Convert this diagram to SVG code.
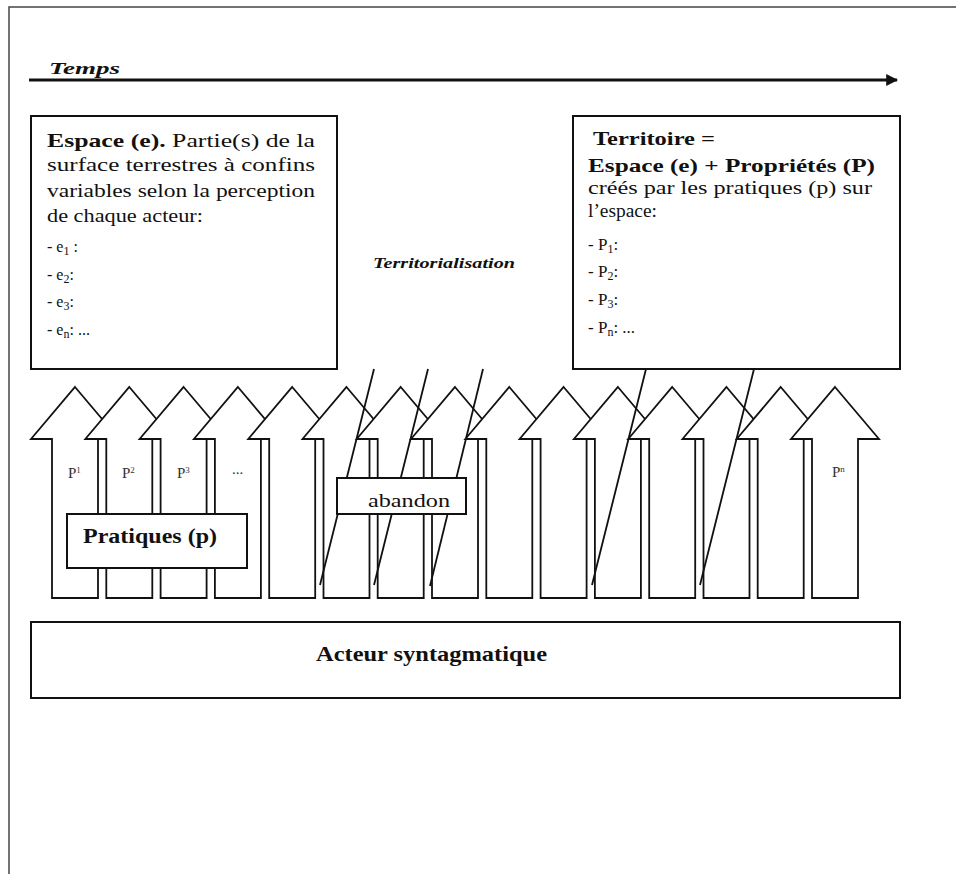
<svg xmlns="http://www.w3.org/2000/svg" xmlns:xlink="http://www.w3.org/1999/xlink" width="956" height="874" viewBox="0 0 956 874">
<style>
  .box{fill:#fff;stroke:#111;stroke-width:2}
  .arr{fill:#fff;stroke:#111;stroke-width:1.8;stroke-linejoin:miter}
  .t{font-family:"Liberation Serif","Times New Roman",serif;fill:#111}
  .b{font-weight:bold}
  .bi{font-weight:bold;font-style:italic}
  .lbl{font-family:"Liberation Serif","Times New Roman",serif;fill:#333;font-size:15px}
  .strike{stroke:#111;stroke-width:1.8;fill:none}
  .sub{font-size:12px}
</style>
<defs>
  <path id="arrowShape" d="M0,387 L44,439 L23,439 L23,598 L-23,598 L-23,439 L-44,439 Z"/>
  <marker id="head" viewBox="0 0 10 10" refX="9" refY="5" markerWidth="4" markerHeight="4" orient="auto" markerUnits="strokeWidth">
    <path d="M0,0 L10,5 L0,10 Z" fill="#111"/>
  </marker>
</defs>
<rect width="956" height="874" fill="#fff"/>
<path d="M9,874 L9,7 L956,7" fill="none" stroke="#444" stroke-width="1.5"/>

<g id="temps">
  <line x1="29" y1="80" x2="897" y2="80" stroke="#111" stroke-width="3" marker-end="url(#head)"/>
  <text class="t bi" x="49" y="74" font-size="17" textLength="71" lengthAdjust="spacingAndGlyphs">Temps</text>
</g>

<g id="espace">
  <rect class="box" x="31" y="116" width="306" height="253"/>
  <text class="t" font-size="19">
    <tspan x="47" y="147" textLength="268" lengthAdjust="spacingAndGlyphs"><tspan font-weight="bold">Espace (e).</tspan> Partie(s) de la</tspan>
    <tspan x="47" y="171" textLength="268" lengthAdjust="spacingAndGlyphs">surface terrestres à confins</tspan>
    <tspan x="47" y="197" textLength="268" lengthAdjust="spacingAndGlyphs">variables selon la perception</tspan>
    <tspan x="47" y="222" textLength="156" lengthAdjust="spacingAndGlyphs">de chaque acteur:</tspan>
  </text>
  <text class="t" font-size="16" x="47" y="252">- e<tspan class="sub" dy="3">1</tspan><tspan dy="-3"> :</tspan></text>
  <text class="t" font-size="16" x="47" y="280">- e<tspan class="sub" dy="3">2</tspan><tspan dy="-3">:</tspan></text>
  <text class="t" font-size="16" x="47" y="307">- e<tspan class="sub" dy="3">3</tspan><tspan dy="-3">:</tspan></text>
  <text class="t" font-size="16" x="47" y="335">- e<tspan class="sub" dy="3">n</tspan><tspan dy="-3">: ...</tspan></text>
</g>

<g id="territoire">
  <rect class="box" x="573" y="116" width="327" height="253"/>
  <text class="t b" font-size="19" x="593" y="145" textLength="122" lengthAdjust="spacingAndGlyphs">Territoire =</text>
  <text class="t b" font-size="19" x="588" y="172" textLength="287" lengthAdjust="spacingAndGlyphs">Espace (e) + Propriétés (P)</text>
  <text class="t" font-size="18" x="588" y="194" textLength="284" lengthAdjust="spacingAndGlyphs">créés par les pratiques (p)  sur</text>
  <text class="t" font-size="18" x="588" y="217" textLength="69" lengthAdjust="spacingAndGlyphs">l’espace:</text>
  <text class="t" font-size="17" x="588" y="250">- P<tspan class="sub" dy="3">1</tspan><tspan dy="-3">:</tspan></text>
  <text class="t" font-size="17" x="588" y="277">- P<tspan class="sub" dy="3">2</tspan><tspan dy="-3">:</tspan></text>
  <text class="t" font-size="17" x="588" y="305">- P<tspan class="sub" dy="3">3</tspan><tspan dy="-3">:</tspan></text>
  <text class="t" font-size="17" x="588" y="333">- P<tspan class="sub" dy="3">n</tspan><tspan dy="-3">: ...</tspan></text>
</g>

<g id="territorialisation">
  <text class="t bi" font-size="14" x="373" y="268" textLength="142" lengthAdjust="spacingAndGlyphs">Territorialisation</text>
</g>

<g id="pratiques-arrows">
  <g id="arrow-1"><use xlink:href="#arrowShape" href="#arrowShape" class="arr" x="75"/></g>
  <g id="arrow-2"><use xlink:href="#arrowShape" href="#arrowShape" class="arr" x="129.3"/></g>
  <g id="arrow-3"><use xlink:href="#arrowShape" href="#arrowShape" class="arr" x="183.6"/></g>
  <g id="arrow-4"><use xlink:href="#arrowShape" href="#arrowShape" class="arr" x="237.9"/></g>
  <g id="arrow-5"><use xlink:href="#arrowShape" href="#arrowShape" class="arr" x="292.2"/></g>
  <g id="arrow-6"><use xlink:href="#arrowShape" href="#arrowShape" class="arr" x="346.5"/></g>
  <g id="arrow-7"><use xlink:href="#arrowShape" href="#arrowShape" class="arr" x="400.7"/></g>
  <g id="arrow-8"><use xlink:href="#arrowShape" href="#arrowShape" class="arr" x="455"/></g>
  <g id="arrow-9"><use xlink:href="#arrowShape" href="#arrowShape" class="arr" x="509.3"/></g>
  <g id="arrow-10"><use xlink:href="#arrowShape" href="#arrowShape" class="arr" x="563.6"/></g>
  <g id="arrow-11"><use xlink:href="#arrowShape" href="#arrowShape" class="arr" x="617.9"/></g>
  <g id="arrow-12"><use xlink:href="#arrowShape" href="#arrowShape" class="arr" x="672.2"/></g>
  <g id="arrow-13"><use xlink:href="#arrowShape" href="#arrowShape" class="arr" x="726.5"/></g>
  <g id="arrow-14"><use xlink:href="#arrowShape" href="#arrowShape" class="arr" x="780.7"/></g>
  <g id="arrow-15"><use xlink:href="#arrowShape" href="#arrowShape" class="arr" x="835"/></g>
  <text class="lbl" x="68" y="478">P<tspan font-size="9" dy="-5">1</tspan></text>
  <text class="lbl" x="122" y="478">P<tspan font-size="9" dy="-5">2</tspan></text>
  <text class="lbl" x="177" y="478">P<tspan font-size="9" dy="-5">3</tspan></text>
  <text class="lbl" x="232" y="474">...</text>
  <text class="lbl" x="832" y="477">P<tspan font-size="9" dy="-5">n</tspan></text>
</g>

<g id="connectors">
  <line class="strike" x1="374" y1="369" x2="320" y2="585"/>
  <line class="strike" x1="428" y1="369" x2="374" y2="585"/>
  <line class="strike" x1="483" y1="369" x2="430" y2="586"/>
  <line class="strike" x1="646" y1="369" x2="592" y2="585"/>
  <line class="strike" x1="754" y1="369" x2="700" y2="585"/>
</g>

<g id="abandon">
  <rect class="box" x="337" y="478" width="129" height="36" stroke-width="1.8"/>
  <text class="t" font-size="18" x="368" y="507" textLength="82" lengthAdjust="spacingAndGlyphs">abandon</text>
</g>

<g id="pratiques">
  <rect class="box" x="67" y="514" width="180" height="54" stroke-width="1.8"/>
  <text class="t b" font-size="20" x="83" y="543" textLength="134" lengthAdjust="spacingAndGlyphs">Pratiques (p)</text>
</g>

<g id="acteur">
  <rect class="box" x="31" y="622" width="869" height="76" stroke-width="2.2"/>
  <text class="t b" font-size="21" x="316" y="661" textLength="231" lengthAdjust="spacingAndGlyphs">Acteur syntagmatique</text>
</g>
</svg>
